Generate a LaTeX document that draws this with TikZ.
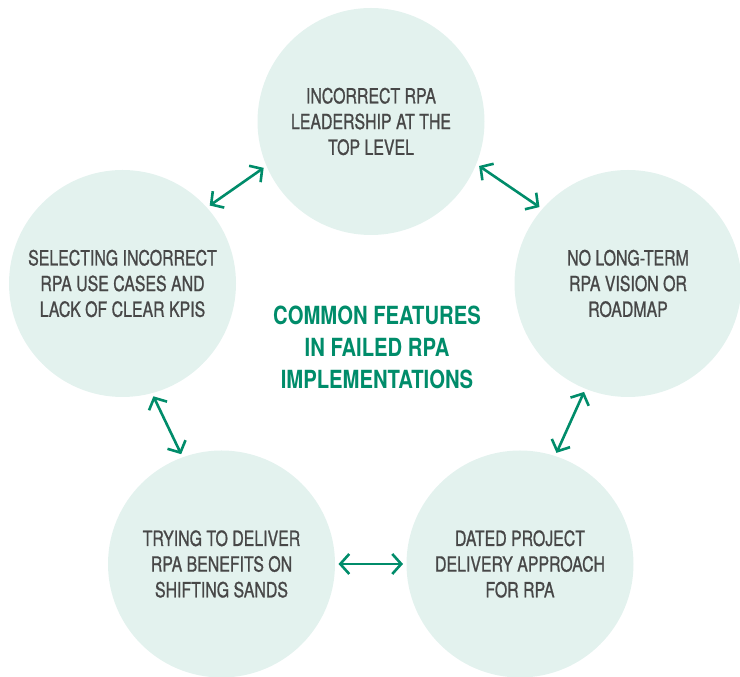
\documentclass[tikz,border=0pt]{standalone}
\usepackage{fontspec}
\setmainfont{TeX Gyre Heros}[FakeStretch=0.76,FakeBold=0.9]
\newfontfamily\titlefont{TeX Gyre Heros}[FakeStretch=0.81]
\usetikzlibrary{arrows.meta}
\definecolor{mint}{HTML}{E3F2EE}
\definecolor{rpagreen}{HTML}{008C6A}
\definecolor{txtgray}{HTML}{474747}
\tikzset{
  bubble/.style={circle, fill=mint, minimum size=227pt, inner sep=0pt, outer sep=0pt,
    align=center, text=txtgray, font=\fontsize{20.9}{25.7}\selectfont},
  link/.style={draw=rpagreen, line width=2.6pt,
    {Straight Barb[length=9pt,width=20pt]}-{Straight Barb[length=9pt,width=20pt]},
    shorten <=3.5pt, shorten >=3.5pt},
  heading/.style={align=center, text=rpagreen, font=\titlefont\bfseries\fontsize{25}{32}\selectfont}
}
\begin{document}
\begin{tikzpicture}[x=1pt,y=1pt]
\useasboundingbox (0,0) rectangle (740,677);
\node[bubble] (t)  at (371,555.5) {INCORRECT RPA\\LEADERSHIP AT THE\\TOP LEVEL};
\node[bubble] (l)  at (122.5,393.5) {SELECTING INCORRECT\\RPA USE CASES AND\\LACK OF CLEAR KPIS};
\node[bubble] (r)  at (628,393.5) {NO LONG-TERM\\RPA VISION OR\\ROADMAP};
\node[bubble] (bl) at (221.5,113) {TRYING TO DELIVER\\RPA BENEFITS ON\\SHIFTING SANDS};
\node[bubble] (br) at (520,113) {DATED PROJECT\\DELIVERY APPROACH\\FOR RPA};
\node[heading] (c) at (377,330) {COMMON FEATURES\\IN FAILED RPA\\IMPLEMENTATIONS};
\draw[link] (l.42) -- (t.203);
\draw[link] (t.338) -- (r.139);
\draw[link] (r.248) -- (br.72.5);
\draw[link] (l.285) -- (bl.110.5);
\draw[link] (bl.0) -- (br.180);
\end{tikzpicture}
\end{document}
